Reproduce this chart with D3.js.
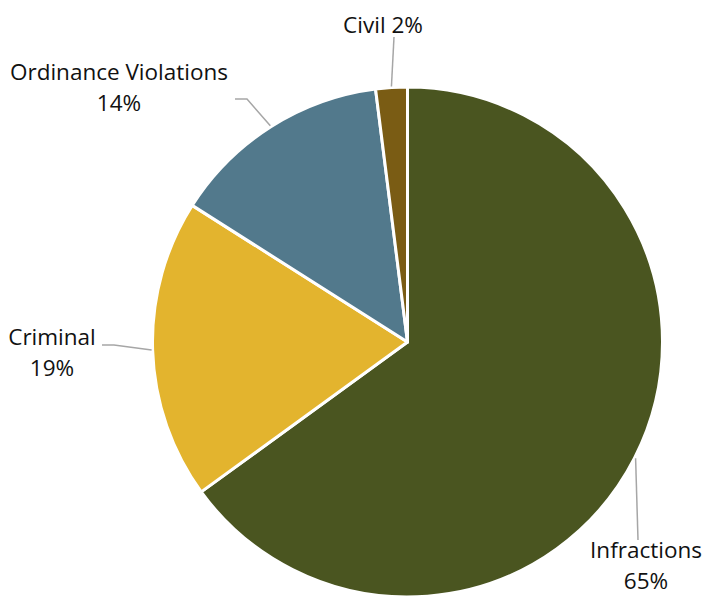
<!DOCTYPE html>
<html lang="en">
<head>
    <meta charset="UTF-8">
    <title>Case types</title>
    <script src="https://cdn.jsdelivr.net/npm/d3@7"></script>
    <style>
        body {
            margin: 0;
            background-color: white;
        }
        text.label {
            font-family: "Open Sans", "Noto Sans", sans-serif;
            font-size: 22.5px;
            fill: #111;
        }
        path.leader {
            fill: none;
            stroke: #a6a6a6;
            stroke-width: 1.5;
        }
    </style>
</head>
<body>

<svg id="svg" width="704" height="596"></svg>

<script>
    // data
    var categories = ["Infractions", "Criminal", "Ordinance Violations", "Civil"];
    var shares = [65, 19, 14, 2];
    var colors = ["#4a5520", "#e3b42e", "#52798c", "#7a5c14"];

    // label layout (anchor of text block, leader path after the arc point)
    var labelLayout = {
        "Infractions": { x: 646, y: 558, elbow: null, end: [638, 540], inline: false },
        "Criminal": { x: 52, y: 345, elbow: [114, 345], end: [102, 345], inline: false },
        "Ordinance Violations": { x: 119, y: 80, elbow: [247, 99], end: [235, 99], inline: false },
        "Civil": { x: 383, y: 33, elbow: null, end: [394, 37], inline: true }
    };

    var cx = 407.5, cy = 342, radius = 255;

    var svg = d3.select("#svg");
    var g = svg.append("g")
        .attr("transform", "translate(" + cx + "," + cy + ")");

    var data = categories.map(function(c, i) {
        return { name: c, value: shares[i], color: colors[i] };
    });

    var pie = d3.pie()
        .sort(null)
        .value(function(d) { return d.value; });

    var arc = d3.arc()
        .innerRadius(0)
        .outerRadius(radius);

    var arcs = pie(data);

    g.selectAll("path.slice")
        .data(arcs)
        .enter()
        .append("path")
        .attr("class", "slice")
        .attr("d", arc)
        .attr("fill", function(d) { return d.data.color; })
        .attr("stroke", "white")
        .attr("stroke-width", 3)
        .attr("stroke-linejoin", "round");

    // leader lines
    function edgePoint(d, r) {
        var a = (d.startAngle + d.endAngle) / 2;
        return [cx + r * Math.sin(a), cy - r * Math.cos(a)];
    }

    svg.selectAll("path.leader")
        .data(arcs)
        .enter()
        .append("path")
        .attr("class", "leader")
        .attr("d", function(d) {
            var lay = labelLayout[d.data.name];
            var p = edgePoint(d, radius + 1);
            var pts = [p];
            if (lay.elbow) pts.push(lay.elbow);
            pts.push(lay.end);
            return d3.line()(pts);
        });

    // labels
    var labels = svg.selectAll("text.label")
        .data(arcs)
        .enter()
        .append("text")
        .attr("class", "label")
        .attr("text-anchor", "middle")
        .attr("x", function(d) { return labelLayout[d.data.name].x; })
        .attr("y", function(d) { return labelLayout[d.data.name].y; });

    labels.each(function(d) {
        var lay = labelLayout[d.data.name];
        var t = d3.select(this);
        if (lay.inline) {
            t.text(d.data.name + " " + d.data.value + "%");
        } else {
            t.append("tspan")
                .attr("x", lay.x)
                .text(d.data.name);
            t.append("tspan")
                .attr("x", lay.x)
                .attr("dy", 31)
                .text(d.data.value + "%");
        }
    });
</script>
</body>
</html>
